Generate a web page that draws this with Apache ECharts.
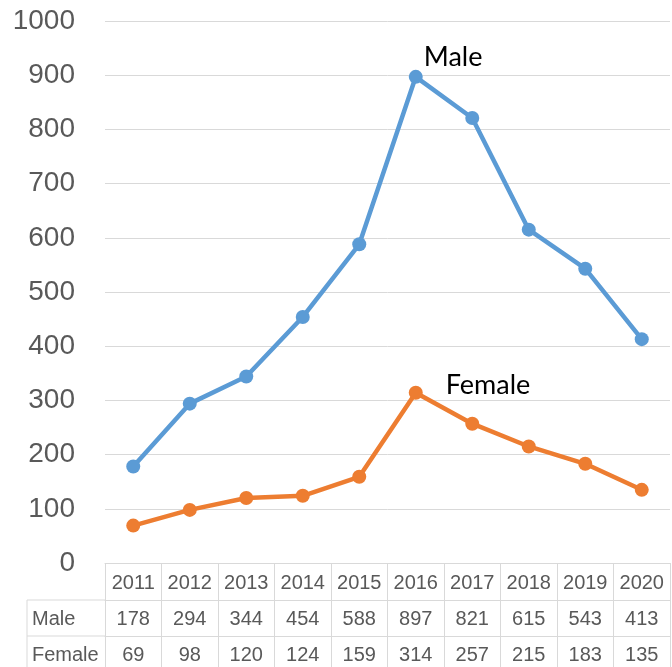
<!DOCTYPE html>
<html>
<head>
<meta charset="utf-8">
<script src="https://cdn.jsdelivr.net/npm/echarts@6/dist/echarts.min.js"></script>
<style>
  html, body { margin: 0; padding: 0; background: #ffffff; }
  #chart { width: 672px; height: 667px; }
</style>
</head>
<body>
<div id="chart"></div>
<script>
// Yearly counts by sex, 2011-2020
const years = ['2011', '2012', '2013', '2014', '2015', '2016', '2017', '2018', '2019', '2020'];
const maleValues = [178, 294, 344, 454, 588, 897, 821, 615, 543, 413];
const femaleValues = [69, 98, 120, 124, 159, 314, 257, 215, 183, 135];
const rowNames = ['Male', 'Female'];
const peakIndex = 5; // year whose point carries the series name

const BORDER = '#d9d9d9';
const TEXT = '#595959';
const TABLE_FONT = '"Liberation Sans", Arial, sans-serif';
const AXIS_FONT = '"Liberation Sans", Arial, sans-serif';
const NAME_FONT = 'Lato, "Open Sans", sans-serif';

const GRID = { left: 105, right: 2, top: 21, bottom: 104 };
const ROW1 = 37;   // height of the year row
const ROW2 = 36;   // height of the first value row

function tableAxis(data, offset, tickLen, margin) {
  return {
    type: 'category',
    data: data.map(String),
    position: 'bottom',
    offset: offset,
    boundaryGap: true,
    axisLine: { show: true, lineStyle: { color: BORDER, width: 1 } },
    axisTick: { show: true, inside: false, length: tickLen, lineStyle: { color: BORDER, width: 1 } },
    axisLabel: {
      show: true, interval: 0, margin: margin,
      color: TEXT, fontSize: 20, fontFamily: TABLE_FONT,
      verticalAlign: 'middle'
    },
    splitLine: { show: false }
  };
}

function withName(values, name, labelOffset) {
  return values.map((v, i) => i === peakIndex ? {
    value: v,
    label: {
      show: true, formatter: name, position: 'right', offset: labelOffset,
      color: '#000000', fontSize: 27, fontFamily: NAME_FONT
    }
  } : v);
}

const chart = echarts.init(document.getElementById('chart'), null, { renderer: 'canvas' });

const tableTop = 667 - GRID.bottom;       // y of the category axis line
const row2Top = tableTop + ROW1;
const row3Top = row2Top + ROW2;
const headLeft = 27;

chart.setOption({
  animation: false,
  backgroundColor: '#ffffff',
  grid: GRID,
  xAxis: [
    tableAxis(years, 0, ROW1, 20),
    tableAxis(maleValues, ROW1, ROW2, 19),
    tableAxis(femaleValues, ROW1 + ROW2, 40, 19)
  ],
  yAxis: {
    type: 'value',
    min: 0, max: 1000, interval: 100,
    axisLine: { show: false },
    axisTick: { show: false },
    axisLabel: { color: TEXT, fontSize: 28, fontFamily: AXIS_FONT, margin: 30, formatter: v => String(v) },
    splitLine: { show: true, lineStyle: { color: BORDER, width: 1 } }
  },
  series: [
    {
      name: 'Male', type: 'line', xAxisIndex: 0,
      data: withName(maleValues, 'Male', [-4, -20]),
      symbol: 'circle', symbolSize: 14,
      lineStyle: { color: '#5B9BD5', width: 4.5 },
      itemStyle: { color: '#5B9BD5' },
      label: { show: false }
    },
    {
      name: 'Female', type: 'line', xAxisIndex: 0,
      data: withName(femaleValues, 'Female', [18, -8]),
      symbol: 'circle', symbolSize: 14,
      lineStyle: { color: '#ED7D31', width: 4.5 },
      itemStyle: { color: '#ED7D31' },
      label: { show: false }
    }
  ],
  // row header cells to the left of the table
  graphic: [
    { type: 'line', shape: { x1: headLeft, y1: row2Top, x2: GRID.left, y2: row2Top }, style: { stroke: BORDER, lineWidth: 1 } },
    { type: 'line', shape: { x1: headLeft, y1: row3Top, x2: GRID.left, y2: row3Top }, style: { stroke: BORDER, lineWidth: 1 } },
    { type: 'line', shape: { x1: headLeft, y1: row2Top, x2: headLeft, y2: 667 }, style: { stroke: BORDER, lineWidth: 1 } },
    { type: 'text', x: headLeft + 5, y: row2Top + 19, style: { text: rowNames[0], fill: TEXT, font: '20px ' + TABLE_FONT, textAlign: 'left', textVerticalAlign: 'middle' } },
    { type: 'text', x: headLeft + 5, y: row3Top + 19, style: { text: rowNames[1], fill: TEXT, font: '20px ' + TABLE_FONT, textAlign: 'left', textVerticalAlign: 'middle' } }
  ]
});
</script>
</body>
</html>
